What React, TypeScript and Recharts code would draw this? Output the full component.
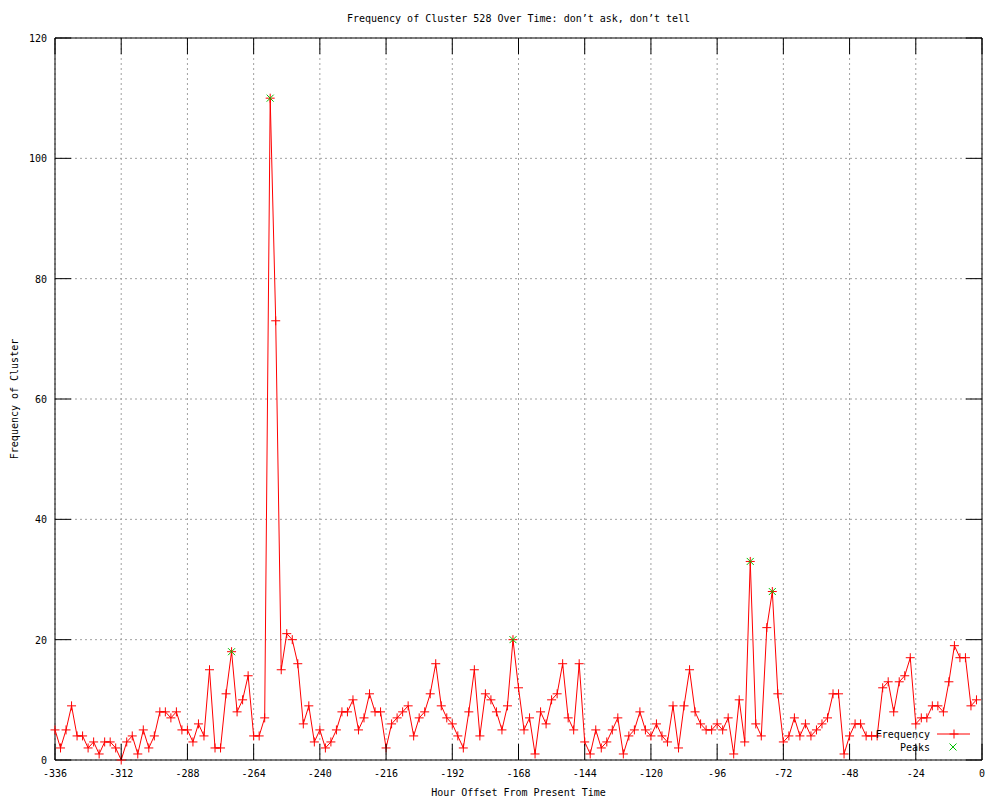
import { CartesianGrid, Legend, Line, LineChart, ReferenceArea, XAxis, YAxis } from "recharts";

const hours = [
  -336, -334, -332, -330, -328, -326, -324, -322, -320, -318, -316, -314, -312, -310, -308, -306,
  -304, -302, -300, -298, -296, -294, -292, -290, -288, -286, -284, -282, -280, -278, -276, -274,
  -272, -270, -268, -266, -264, -262, -260, -258, -256, -254, -252, -250, -248, -246, -244, -242,
  -240, -238, -236, -234, -232, -230, -228, -226, -224, -222, -220, -218, -216, -214, -212, -210,
  -208, -206, -204, -202, -200, -198, -196, -194, -192, -190, -188, -186, -184, -182, -180, -178,
  -176, -174, -172, -170, -168, -166, -164, -162, -160, -158, -156, -154, -152, -150, -148, -146,
  -144, -142, -140, -138, -136, -134, -132, -130, -128, -126, -124, -122, -120, -118, -116, -114,
  -112, -110, -108, -106, -104, -102, -100, -98, -96, -94, -92, -90, -88, -86, -84, -82,
  -80, -78, -76, -74, -72, -70, -68, -66, -64, -62, -60, -58, -56, -54, -52, -50,
  -48, -46, -44, -42, -40, -38, -36, -34, -32, -30, -28, -26, -24, -22, -20, -18,
  -16, -14, -12, -10, -8, -6, -4, -2,
];

const frequency = [
  5, 2, 5, 9, 4, 4, 2, 3, 1, 3, 3, 2, 0, 3, 4, 1,
  5, 2, 4, 8, 8, 7, 8, 5, 5, 3, 6, 4, 15, 2, 2, 11,
  18, 8, 10, 14, 4, 4, 7, 110, 73, 15, 21, 20, 16, 6, 9, 3,
  5, 2, 3, 5, 8, 8, 10, 5, 7, 11, 8, 8, 2, 6, 7, 8,
  9, 4, 7, 8, 11, 16, 9, 7, 6, 4, 2, 8, 15, 4, 11, 10,
  8, 5, 9, 20, 12, 5, 7, 1, 8, 6, 10, 11, 16, 7, 5, 16,
  3, 1, 5, 2, 3, 5, 7, 1, 4, 5, 8, 5, 4, 6, 4, 3,
  9, 2, 9, 15, 8, 6, 5, 5, 6, 5, 7, 1, 10, 3, 33, 6,
  4, 22, 28, 11, 3, 4, 7, 4, 6, 4, 5, 6, 7, 11, 11, 1,
  4, 6, 6, 4, 4, 4, 12, 13, 8, 13, 14, 17, 6, 7, 7, 9,
  9, 8, 13, 19, 17, 17, 9, 10,
];

const peakHours = [-272, -258, -170, -84, -76];
const peakValues = [18, 110, 20, 33, 28];

const xTicks = [-336, -312, -288, -264, -240, -216, -192, -168, -144, -120, -96, -72, -48, -24, 0];
const yTicks = [0, 20, 40, 60, 80, 100, 120];

const freqData = hours.map((h, i) => ({ hour: h, count: frequency[i] }));
const peakData = peakHours.map((h, i) => ({ hour: h, count: peakValues[i] }));

const W = 1000;
const H = 800;
const LEFT = 55;
const RIGHT = 982;
const TOP = 38;
const BOTTOM = 760;
const TICK = 16;
const FONT = "'DejaVu Sans Mono', monospace";
const RED = "#ff0000";
const GREEN = "#00c000";

const XTick = (props: any) => {
  const { x, payload } = props;
  return (
    <g>
      <line x1={x} y1={BOTTOM} x2={x} y2={BOTTOM - TICK} stroke="#000" />
      <line x1={x} y1={TOP} x2={x} y2={TOP + TICK} stroke="#000" />
      <text x={x} y={BOTTOM + 17} textAnchor="middle" fontSize={10} fontFamily={FONT} fill="#000">
        {payload.value}
      </text>
    </g>
  );
};

const YTick = (props: any) => {
  const { y, payload } = props;
  return (
    <g>
      <line x1={LEFT} y1={y} x2={LEFT + TICK} y2={y} stroke="#000" />
      <line x1={RIGHT} y1={y} x2={RIGHT - TICK} y2={y} stroke="#000" />
      <text x={LEFT - 8} y={y + 4} textAnchor="end" fontSize={10} fontFamily={FONT} fill="#000">
        {payload.value}
      </text>
    </g>
  );
};

const plusDot = (props: any) => {
  const { cx, cy, index } = props;
  return <path key={"p" + index} d={`M${cx - 4.5},${cy}h9M${cx},${cy - 4.5}v9`} stroke={RED} strokeWidth={1} fill="none" />;
};

const crossDot = (props: any) => {
  const { cx, cy, index } = props;
  return (
    <path
      key={"x" + index}
      d={`M${cx - 3.5},${cy - 3.5}l7,7M${cx + 3.5},${cy - 3.5}l-7,7`}
      stroke={GREEN}
      strokeWidth={1}
      fill="none"
    />
  );
};

const YTitle = () => (
  <text
    transform={`translate(14,${(TOP + BOTTOM) / 2}) rotate(-90)`}
    textAnchor="middle"
    dominantBaseline="central"
    fontSize={10}
    fontFamily={FONT}
    fill="#000"
  >
    Frequency of Cluster
  </text>
);

const XTitle = () => (
  <text x={(LEFT + RIGHT) / 2} y={H - 4} textAnchor="middle" fontSize={10} fontFamily={FONT} fill="#000">
    Hour Offset From Present Time
  </text>
);

const KeyBox = () => (
  <svg width={120} height={30} style={{ display: "block" }}>
    <text x={70} y={12} textAnchor="end" fontSize={10} fontFamily={FONT} fill="#000">
      Frequency
    </text>
    <line x1={77} y1={8} x2={110} y2={8} stroke={RED} />
    <path d="M89.5,8h9M94,3.5v9" stroke={RED} fill="none" />
    <text x={70} y={25} textAnchor="end" fontSize={10} fontFamily={FONT} fill="#000">
      Peaks
    </text>
    <path d="M89.5,17.5l7,7M96.5,17.5l-7,7" stroke={GREEN} fill="none" />
  </svg>
);

export default function App() {
  return (
    <div style={{ position: "absolute", left: 0, top: 0, width: W, height: H, background: "#fff" }}>
      <div
        style={{
          position: "absolute",
          top: 13,
          left: 0,
          width: 2 * ((LEFT + RIGHT) / 2),
          textAlign: "center",
          fontFamily: FONT,
          fontSize: 10,
          lineHeight: "12px",
          color: "#000",
        }}
      >
        Frequency of Cluster 528 Over Time: don’t ask, don’t tell
      </div>
      <LineChart width={W} height={H} margin={{ top: TOP, right: W - RIGHT, left: 0, bottom: 0 }}>
        <CartesianGrid stroke="#a0a0a0" strokeDasharray="2 3" />
        <XAxis
          dataKey="hour"
          type="number"
          domain={[-336, 0]}
          ticks={xTicks}
          interval={0}
          height={H - BOTTOM}
          axisLine={false}
          tickLine={false}
          tick={<XTick />}
          label={<XTitle />}
        />
        <YAxis
          type="number"
          domain={[0, 120]}
          ticks={yTicks}
          interval={0}
          width={LEFT}
          axisLine={false}
          tickLine={false}
          tick={<YTick />}
          label={<YTitle />}
        />
        <ReferenceArea x1={-336} x2={0} y1={0} y2={120} fill="none" stroke="#000" strokeWidth={1} fillOpacity={0} />
        <Line
          data={freqData}
          dataKey="count"
          type="linear"
          stroke={RED}
          strokeWidth={1}
          dot={plusDot}
          activeDot={false}
          isAnimationActive={false}
        />
        <Line
          data={peakData}
          dataKey="count"
          type="linear"
          stroke="none"
          dot={crossDot}
          activeDot={false}
          isAnimationActive={false}
        />
        <Legend
          layout="horizontal"
          verticalAlign="middle"
          align="center"
          content={<KeyBox />}
          wrapperStyle={{ position: "absolute", left: 860, top: 726, width: 120, bottom: "auto" }}
        />
      </LineChart>
    </div>
  );
}
